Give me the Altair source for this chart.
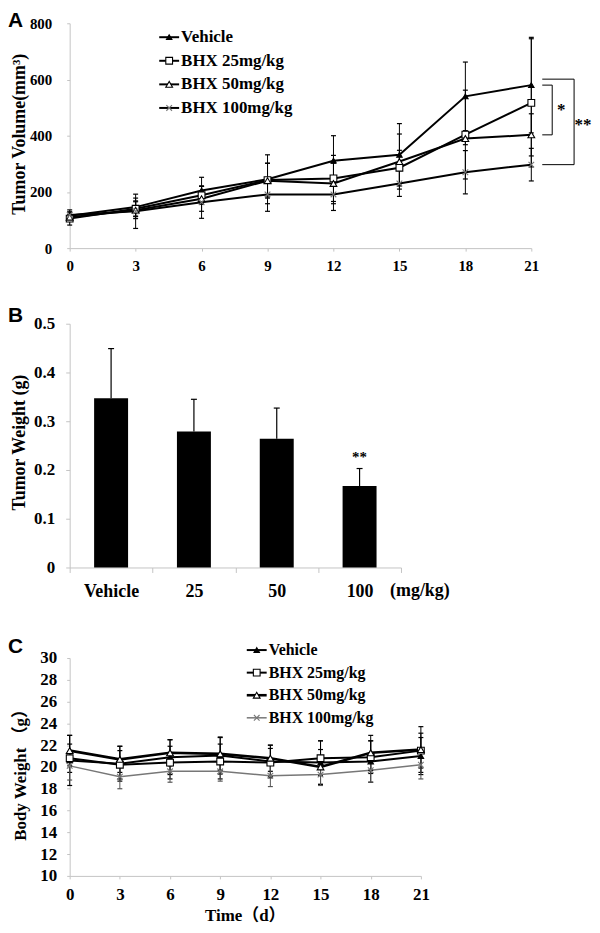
import altair as alt
import pandas as pd

# ---------------- data ----------------
days = [0, 3, 6, 9, 12, 15, 18, 21]
series_names = ["Vehicle", "BHX 25mg/kg", "BHX 50mg/kg", "BHX 100mg/kg"]
panel_letters = ["A", "B", "C"]

# Panel A: tumor volume (mm3), mean and error
vol_vehicle = [115, 146, 205, 245, 311, 332, 540, 580]
vol_vehicle_err = [14, 32, 47, 87, 89, 111, 122, 170]
vol_bhx25 = [105, 140, 188, 242, 248, 286, 404, 517]
vol_bhx25_err = [23, 28, 32, 60, 82, 62, 158, 228]
vol_bhx50 = [110, 135, 176, 240, 230, 308, 390, 403]
vol_bhx50_err = [10, 30, 45, 62, 72, 98, 22, 75]
vol_bhx100 = [118, 131, 163, 191, 191, 230, 270, 297]
vol_bhx100_err = [18, 61, 57, 60, 57, 46, 77, 58]

# significance brackets at day 21 (pairs compared, label)
bracket_pairs = [("Vehicle", "BHX 50mg/kg", "*"), ("Vehicle", "BHX 100mg/kg", "**")]

# Panel B: tumor weight (g)
weight_groups = ["Vehicle", "25", "50", "100"]
weight_mean = [0.347, 0.279, 0.264, 0.167]
weight_err = [0.102, 0.066, 0.063, 0.036]
weight_sig = ["", "", "", "**"]
weight_unit = "(mg/kg)"

# Panel C: body weight (g)
bw_vehicle = [20.6, 20.3, 20.9, 21.05, 20.5, 20.4, 20.5, 21.0]
bw_vehicle_err = [2.3, 1.6, 1.6, 1.7, 1.5, 2.0, 1.9, 1.7]
bw_bhx25 = [20.8, 20.2, 20.4, 20.5, 20.4, 20.8, 20.9, 21.5]
bw_bhx25_err = [1.3, 1.3, 1.5, 1.6, 1.3, 1.6, 1.5, 1.6]
bw_bhx50 = [21.5, 20.7, 21.3, 21.2, 20.8, 20.0, 21.3, 21.6]
bw_bhx50_err = [1.4, 1.2, 1.2, 1.5, 1.2, 1.6, 1.6, 2.1]
bw_bhx100 = [20.1, 19.1, 19.6, 19.6, 19.2, 19.3, 19.7, 20.2]
bw_bhx100_err = [1.3, 1.1, 1.0, 0.9, 1.0, 1.0, 1.1, 1.3]

# ---------------- styles ----------------
FONT = "'Liberation Serif', 'Times New Roman', serif"
CJK = "'Liberation Serif', 'Noto Sans CJK SC', serif"
SANS = "'Liberation Sans', Arial, sans-serif"
GRAY = "#c4c4c4"

marker = {
    "Vehicle": dict(shape="triangle-up", fill="black", stroke="black", size=30),
    "BHX 25mg/kg": dict(shape="square", fill="white", stroke="black", size=46),
    "BHX 50mg/kg": dict(shape="triangle-up", fill="white", stroke="black", size=46),
    "BHX 100mg/kg": dict(shape="M-1,-1L1,1M-1,1L1,-1", fill="white", stroke="#777777", size=32),
}
lineA = {n: dict(color="black", width=2) for n in series_names}
lineC = {
    "Vehicle": dict(color="black", width=2),
    "BHX 25mg/kg": dict(color="black", width=2),
    "BHX 50mg/kg": dict(color="black", width=2.6),
    "BHX 100mg/kg": dict(color="#777777", width=1.5),
}


def long_frame(vals, errs):
    rows = []
    for name, v_list, e_list in zip(series_names, vals, errs):
        for d, v, e in zip(days, v_list, e_list):
            rows.append(dict(series=name, day=d, value=v, lo=v - e, hi=v + e))
    return pd.DataFrame(rows)


def axis_common(**kw):
    base = dict(labelFont=FONT, labelFontWeight="bold", labelColor="black",
                titleFont=FONT, titleFontWeight="bold", titleColor="black",
                domainColor=GRAY, tickColor=GRAY, grid=False, labelOverlap=False)
    base.update(kw)
    return alt.Axis(**base)


def line_panel(df, x, yscale, yaxis, lines, legend_x, legend_y0, legend_dy, legend_fs, cap):
    layers = []
    for name in series_names:
        base = alt.Chart(df).transform_filter(alt.datum.series == name)
        layers.append(base.mark_line(color=lines[name]["color"],
                                     strokeWidth=lines[name]["width"]).encode(
            x=x, y=alt.Y("value:Q", scale=yscale, axis=yaxis)))
    for name in series_names:
        base = alt.Chart(df).transform_filter(alt.datum.series == name)
        col = "black" if name != "BHX 100mg/kg" or lines is lineA else "#555555"
        layers.append(base.mark_rule(color=col, strokeWidth=1).encode(
            x=x, y=alt.Y("lo:Q", scale=yscale, axis=yaxis), y2="hi:Q"))
        layers.append(base.transform_fold(["lo", "hi"], as_=["end", "yv"]).mark_tick(
            orient="horizontal", size=cap, thickness=1.2, color=col, opacity=1).encode(
            x=x, y=alt.Y("yv:Q", scale=yscale, axis=yaxis)))
    for name in series_names:
        m = marker[name]
        base = alt.Chart(df).transform_filter(alt.datum.series == name)
        layers.append(base.mark_point(shape=m["shape"], filled=True, fill=m["fill"],
                                      stroke=m["stroke"], strokeWidth=1.1, size=m["size"],
                                      opacity=1).encode(
            x=x, y=alt.Y("value:Q", scale=yscale, axis=yaxis)))
    # legend
    leg = pd.DataFrame({"series": series_names})
    for i, name in enumerate(series_names):
        yy = legend_y0 + i * legend_dy
        m = marker[name]
        b = alt.Chart(leg).transform_filter(alt.datum.series == name)
        layers.append(b.mark_rule(color=lines[name]["color"], strokeWidth=lines[name]["width"]).encode(
            x=alt.value(legend_x), x2=alt.value(legend_x + 20), y=alt.value(yy)))
        layers.append(b.mark_point(shape=m["shape"], filled=True, fill=m["fill"], stroke=m["stroke"],
                                   strokeWidth=1.1, size=m["size"], opacity=1).encode(
            x=alt.value(legend_x + 10), y=alt.value(yy)))
        layers.append(b.mark_text(align="left", baseline="middle", font=FONT, fontWeight="bold",
                                  fontSize=legend_fs, color="black").encode(
            x=alt.value(legend_x + 22), y=alt.value(yy), text="series:N"))
    return layers


# ---------------- Panel A ----------------
dfA = long_frame([vol_vehicle, vol_bhx25, vol_bhx50, vol_bhx100],
                 [vol_vehicle_err, vol_bhx25_err, vol_bhx50_err, vol_bhx100_err])
xA = alt.X("day:Q", scale=alt.Scale(domain=[0, 21], nice=False, zero=False),
           axis=axis_common(values=days, title=None, labelFontSize=15, labelPadding=7,
                            tickSize=3, labelFlush=False))
yA_scale = alt.Scale(domain=[0, 800], nice=False)
yA_axis = axis_common(values=[0, 200, 400, 600, 800], title="Tumor Volume(mm³)",
                      titleFontSize=18, titleX=-50, titleY=111, titleAngle=270,
                      titleAlign="center", titleBaseline="middle",
                      labelFontSize=15, labelPadding=15, tickSize=3)
layersA = line_panel(dfA, xA, yA_scale, yA_axis, lineA, 90, 14, 23.7, 17, 5)

end_vals = dfA[dfA.day == days[-1]].set_index("series")["value"]
br_rows = []
for (a, b, lab) in bracket_pairs:
    br_rows.append(dict(label=lab, top=end_vals[a], bottom=end_vals[b]))
brA = pd.DataFrame(br_rows)
brA["mid"] = (brA["top"] + brA["bottom"]) / 2
bracket_geom = [dict(x0=475, x1=485, off=0, lx=494), dict(x0=475, x1=507, off=-6, lx=516)]
for i, g in enumerate(bracket_geom):
    b = alt.Chart(brA).transform_filter(alt.datum.label == bracket_pairs[i][2])
    layersA.append(b.mark_rule(color="black", strokeWidth=1, yOffset=g["off"]).encode(
        x=alt.value(g["x0"]), x2=alt.value(g["x1"]), y=alt.Y("top:Q", scale=yA_scale, axis=yA_axis)))
    layersA.append(b.mark_rule(color="black", strokeWidth=1).encode(
        x=alt.value(g["x0"]), x2=alt.value(g["x1"]), y=alt.Y("bottom:Q", scale=yA_scale, axis=yA_axis)))
    layersA.append(b.mark_rule(color="black", strokeWidth=1, yOffset=g["off"], y2Offset=0).encode(
        x=alt.value(g["x1"]), y=alt.Y("top:Q", scale=yA_scale, axis=yA_axis), y2="bottom:Q"))
    layersA.append(b.mark_text(font=FONT, fontWeight="bold", fontSize=17, baseline="middle",
                               align="center", color="black").encode(
        x=alt.value(g["lx"]), y=alt.Y("mid:Q", scale=yA_scale, axis=yA_axis), text="label:N"))

letters = pd.DataFrame({"letter": panel_letters})


def letter_layer(letter, yv):
    return alt.Chart(letters).transform_filter(alt.datum.letter == letter).mark_text(
        font=SANS, fontWeight="bold", fontSize=21, align="left", baseline="top", color="black").encode(
        x=alt.value(-62), y=alt.value(yv), text="letter:N")


layersA.append(letter_layer("A", -13))
chartA = alt.layer(*layersA).properties(width=464, height=226)

# ---------------- Panel B ----------------
dfB = pd.DataFrame({"group": weight_groups, "mean": weight_mean, "err": weight_err, "sig": weight_sig})
dfB["hi"] = dfB["mean"] + dfB["err"]
xB = alt.X("group:N", sort=weight_groups, scale=alt.Scale(paddingInner=0, paddingOuter=0),
           axis=axis_common(title=None, labelAngle=0, tickBand="extent", labelFontSize=18,
                            labelPadding=10, tickSize=5))
yB_scale = alt.Scale(domain=[0, 0.5], nice=False)
yB_axis = axis_common(values=[0, 0.1, 0.2, 0.3, 0.4, 0.5], title="Tumor Weight (g)",
                      labelExpr="datum.value == 0 ? '0' : format(datum.value, '.1f')",
                      titleFontSize=18, titleX=-50, titleY=119, titleAngle=270,
                      titleAlign="center", titleBaseline="middle",
                      labelFontSize=17, labelPadding=11, tickSize=4)
baseB = alt.Chart(dfB)
barsB = baseB.mark_bar(color="black", width=alt.RelativeBandSize(0.41)).encode(
    x=xB, y=alt.Y("mean:Q", scale=yB_scale, axis=yB_axis))
errB = baseB.mark_rule(color="black", strokeWidth=1.2).encode(
    x=xB, y=alt.Y("mean:Q", scale=yB_scale, axis=yB_axis), y2="hi:Q")
capB = baseB.mark_tick(orient="horizontal", size=6, thickness=1.2, color="black", opacity=1).encode(
    x=xB, y=alt.Y("hi:Q", scale=yB_scale, axis=yB_axis))
sigB = baseB.mark_text(font=FONT, fontWeight="bold", fontSize=15, baseline="middle", dy=-12,
                       color="black").encode(
    x=xB, y=alt.Y("hi:Q", scale=yB_scale, axis=yB_axis), text="sig:N")
unitB = alt.Chart(pd.DataFrame({"u": [weight_unit]})).mark_text(
    font=FONT, fontWeight="bold", fontSize=18, baseline="middle", align="center", color="black").encode(
    x=alt.value(352), y=alt.value(269), text="u:N")
chartB = alt.layer(barsB, errB, capB, sigB, unitB, letter_layer("B", -19)).properties(width=333, height=245)

# ---------------- Panel C ----------------
dfC = long_frame([bw_vehicle, bw_bhx25, bw_bhx50, bw_bhx100],
                 [bw_vehicle_err, bw_bhx25_err, bw_bhx50_err, bw_bhx100_err])
xC = alt.X("day:Q", scale=alt.Scale(domain=[0, 21], nice=False, zero=False),
           axis=axis_common(values=days, title="Time（d）", labelFontSize=17, labelPadding=8,
                            tickSize=3, labelFlush=False, titleFont=CJK, titleFontSize=17,
                            titleX=176, titleY=40, titleAlign="center", titleBaseline="middle"))
yC_scale = alt.Scale(domain=[10, 30], nice=False, zero=False, range=[234, 15])
yC_axis = axis_common(values=list(range(10, 31, 2)), title="Body Weight （g）",
                      titleFont=CJK, titleFontSize=17, titleX=-49, titleY=128, titleAngle=270,
                      titleAlign="center", titleBaseline="middle",
                      labelFontSize=17, labelPadding=10, tickSize=3)
layersC = line_panel(dfC, xC, yC_scale, yC_axis, lineC, 178, 7, 22.7, 16, 5)
layersC.append(letter_layer("C", -7))
chartC = alt.layer(*layersC).properties(width=353, height=234)

chart = alt.vconcat(chartA, chartB, chartC, spacing=76, bounds="flush").properties(
    padding=0, background="white"
).configure_view(stroke=None)

chart.save("out.html", embed_options={"renderer": "svg", "actions": False})
